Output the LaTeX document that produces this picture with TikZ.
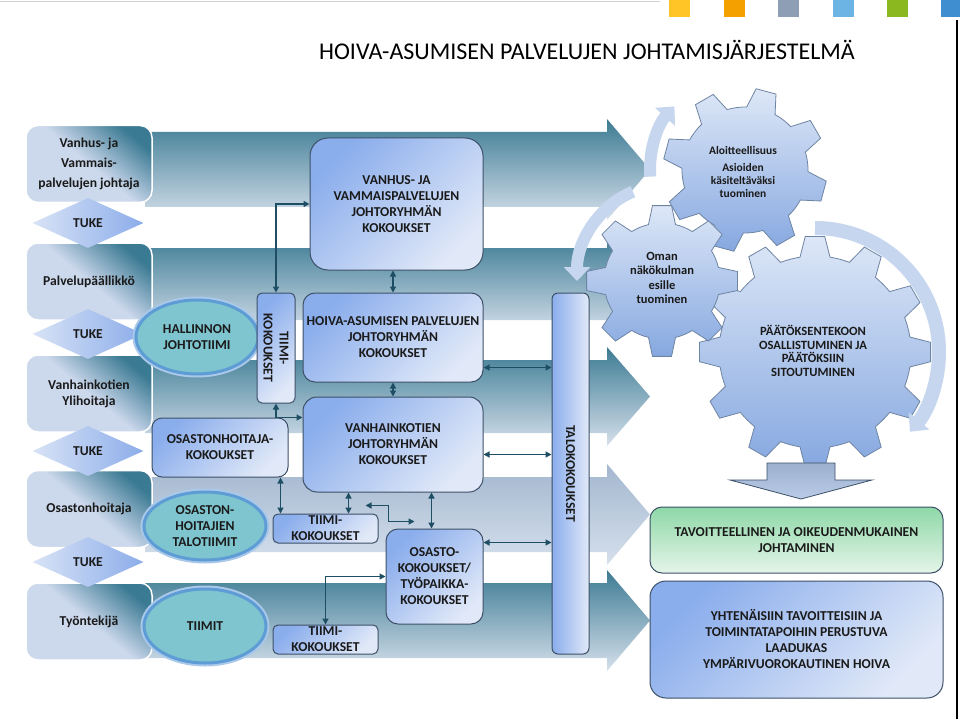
\documentclass[tikz,border=0pt]{standalone}
\usepackage{fontspec}
\setmainfont{Carlito}
\usepackage{tikz}
\usetikzlibrary{arrows.meta, positioning, calc, shapes.geometric}

\definecolor{textcol}{HTML}{1A1A1A}
\definecolor{bandtop}{HTML}{3C7B93}
\definecolor{bandpale}{HTML}{A3B7CF}
\definecolor{bandbot}{HTML}{D6E0EC}
\definecolor{roledk}{HTML}{3B7A93}
\definecolor{rolelt}{HTML}{CCD8EC}
\definecolor{tukelt}{HTML}{D8E3F6}
\definecolor{tukedk}{HTML}{8CADEA}
\definecolor{ellfill}{HTML}{7FC5CF}
\definecolor{ellring}{HTML}{5E9CD6}
\definecolor{ellglow}{HTML}{A9C8EA}
\definecolor{boxdk}{HTML}{8AADEC}
\definecolor{boxlt}{HTML}{E1E9F8}
\definecolor{boxline}{HTML}{3D5068}
\definecolor{conncol}{HTML}{1D4E63}
\definecolor{gearlt}{HTML}{DDE7F7}
\definecolor{geardk}{HTML}{86A8E0}
\definecolor{gearline}{HTML}{6E84A3}
\definecolor{arcblue}{HTML}{C6D6EE}
\definecolor{greentop}{HTML}{8ED8A7}
\definecolor{greenbot}{HTML}{E5F5E9}
\definecolor{downtop}{HTML}{9CB0CF}
\definecolor{downbot}{HTML}{B9CBE6}
\definecolor{sqyellow}{HTML}{FFC425}
\definecolor{sqorange}{HTML}{F4A000}
\definecolor{sqgrey}{HTML}{8E9FB5}
\definecolor{sqlblue}{HTML}{6CB4E4}
\definecolor{sqgreen}{HTML}{8AB81E}
\definecolor{sqblue}{HTML}{3E8ED0}

% teeth, outer radius, inner radius, offset angle
\newcommand{\gearpath}[4]{%
  ({#4-0.7*360/#1}:#3)
  \foreach \k [evaluate=\k as \a using #4+(\k-1)*360/#1] in {1,...,#1}{
    arc[start angle={\a-0.7*360/#1}, end angle={\a-0.3*360/#1}, radius=#3]
    -- ({\a-0.16*360/#1}:#2) -- ({\a+0.16*360/#1}:#2) -- ({\a+0.3*360/#1}:#3)
  } -- cycle}

\begin{document}
\begin{tikzpicture}[x=1pt, y=-1pt, >={Triangle[length=6pt,width=6pt]},
  txt/.style={text=textcol, align=center, font=\fontsize{13.6}{16}\selectfont\bfseries},
  rolebox/.style={txt, rounded corners=12pt, draw=white, line width=1.5pt,
    top color=roledk, bottom color=rolelt, middle color=rolelt, shading angle=-40,
    minimum width=126pt, minimum height=77pt, inner sep=0pt},
  tuke/.style={txt, diamond, left color=tukelt, right color=tukedk,
    minimum width=111pt, minimum height=50pt, inner sep=0pt},
  team/.style={txt, ellipse, fill=ellfill, draw=ellring, line width=3pt,
    preaction={draw=ellglow, line width=7pt},
    minimum width=122pt, minimum height=74pt, inner sep=0pt},
  meet/.style={txt, draw=boxline, line width=1pt, top color=boxdk, bottom color=boxlt,
    shading angle=45, inner sep=0pt},
  conn/.style={draw=conncol, line width=1.3pt},
  gearfill/.style={draw=gearline, line width=0.8pt, top color=gearlt, bottom color=geardk},
  turn/.style={draw=arcblue, line width=12pt, -{Triangle[length=14pt,width=26pt]}},
]
\useasboundingbox (0,0) rectangle (960,719);
\fill[white] (0,0) rectangle (960,719);

% frame and colour squares
\draw[gray!35, line width=0.8pt] (0,1) -- (660,1);
\draw[black, line width=1.2pt] (957,20) -- (957,719);
\foreach \x/\c in {669/sqyellow, 724/sqorange, 778/sqgrey, 833/sqlblue, 887/sqgreen, 941/sqblue}
  \fill[\c] (\x,0) rectangle (\x+21,17);
\node[font=\fontsize{24}{28}\selectfont, text=black] (title) at (587,50)
  {HOIVA-ASUMISEN PALVELUJEN JOHTAMISJÄRJESTELMÄ};

% rows
\foreach \t/\b/\c in {132/207/bandtop, 248/320/bandtop, 360/433/bandtop, 477/552/bandpale, 583/658/bandtop}
  \shade[top color=\c, bottom color=bandbot] (145,\t) -- (607,\t) -- (607,\t-13)
    -- (650,{(\t+\b)/2}) -- (607,\b+13) -- (607,\b) -- (145,\b) -- cycle;

\node[rolebox] (roleA) at (89,164) {Vanhus- ja\\[4pt]Vammais-\\[4pt]palvelujen johtaja};
\node[rolebox] (roleB) at (89,281.5) {Palvelupäällikkö};
\node[rolebox] (roleC) at (89,393.5) {Vanhainkotien\\Ylihoitaja};
\node[rolebox] (roleD) at (89,509) {Osastonhoitaja};
\node[rolebox] (roleE) at (89,621.5) {Työntekijä};
\foreach \y [count=\i] in {223,334,451,562}
  \node[tuke] (tuke\i) at (88,\y) {TUKE};

\node[team] (hallinto) at (197,337) {HALLINNON\\JOHTOTIIMI};
\node[team, minimum height=68pt] (talotiimi) at (205,526) {OSASTON-\\HOITAJIEN\\TALOTIIMIT};
\node[team] (tiimit) at (205,626) {TIIMIT};

% meetings
\node[meet, rounded corners=18pt, minimum width=173pt, minimum height=132pt] (vjoht) at (396.5,204)
  {VANHUS- JA\\VAMMAISPALVELUJEN\\JOHTORYHMÄN\\KOKOUKSET};
\node[meet, rounded corners=12pt, minimum width=180pt, minimum height=89pt] (hoiva) at (393,337.5)
  {HOIVA-ASUMISEN PALVELUJEN\\JOHTORYHMÄN\\KOKOUKSET};
\node[meet, rounded corners=5pt, minimum width=38pt, minimum height=110pt] (tiimiV) at (276,348) {};
\node[txt, rotate=-90] (tiimiVtxt) at (tiimiV) {TIIMI-\\KOKOUKSET};
\node[meet, rounded corners=14pt, minimum width=180pt, minimum height=95pt] (vanhk) at (393,444.5)
  {VANHAINKOTIEN\\JOHTORYHMÄN\\KOKOUKSET};
\node[meet, rounded corners=10pt, minimum width=136pt, minimum height=59pt] (oshk) at (220,447.5)
  {OSASTONHOITAJA-\\KOKOUKSET};
\node[meet, rounded corners=5pt, minimum width=105pt, minimum height=29pt] (tiimiA) at (325.5,528.5)
  {TIIMI-\\KOKOUKSET};
\node[meet, rounded corners=12pt, minimum width=97pt, minimum height=95pt] (osasto) at (434.5,576.5)
  {OSASTO-\\KOKOUKSET/\\TYÖPAIKKA-\\KOKOUKSET};
\node[meet, rounded corners=5pt, minimum width=105pt, minimum height=29pt] (tiimiB) at (325.5,639.5)
  {TIIMI-\\KOKOUKSET};
\node[meet, rounded corners=6pt, minimum width=37pt, minimum height=361pt,
  left color=boxdk, right color=boxlt] (talo) at (570.5,473.5) {};
\node[txt, rotate=-90] (talotxt) at (talo) {TALOKOKOUKSET};

% connectors
\coordinate (hoivaT) at ($(hoiva.south east)+(0,-15)$);
\coordinate (vanhkT) at ($(vanhk.east)+(0,10)$);
\coordinate (osastoT) at ($(osasto.north east)+(0,14)$);
\coordinate (oshkN) at (tiimiV.south |- oshk.north);
\coordinate (oshkS) at ($(oshk.south east)+(-8,0)$);
\coordinate (tiimiAN) at ($(tiimiA.north east)+(-30,0)$);
\coordinate (kinkA) at ($(tiimiA.north east)+(-13,-8)$);
\coordinate (kinkB) at ($(osasto.north west)+(29,-7)$);
\coordinate (osastoN) at ($(osasto.north)+(-3,0)$);
\draw[conn,<->] (tiimiV.north) |- (vjoht.west);
\draw[conn,<->] (hoiva.north) -- (hoiva.north |- vjoht.south);
\draw[conn,<->] (hoiva.south) -- (vanhk.north);
\draw[conn,<->] (hoivaT) -- (hoivaT -| talo.west);
\draw[conn,<->] (vanhkT) -- (vanhkT -| talo.west);
\draw[conn,<->] (osastoT) -- (osastoT -| talo.west);
\draw[conn,->] (oshkN) -- (tiimiV.south);
\draw[conn,->] (oshkN) -- (oshkN -| vanhk.west);
\draw[conn,<->] (oshkS) -- (oshkS |- tiimiA.north);
\draw[conn,<->] (tiimiAN) -- (tiimiAN |- vanhk.south);
\draw[conn,<->] (kinkA) -- ++(23,0) |- (kinkB);
\draw[conn,<->] (osastoN) -- (osastoN |- vanhk.south);
\draw[conn,<->] (osasto.west) -| (tiimiB.north);

% gears
\coordinate (gearA) at (745,170);
\coordinate (gearB) at (662,281);
\coordinate (gearC) at (815,352);
\path[gearfill, shift={(gearC)}] \gearpath{12}{116}{96}{0};
\path[gearfill, shift={(gearA)}] \gearpath{8}{82}{63}{15};
\path[gearfill, shift={(gearB)}] \gearpath{8}{76}{58}{0};
\node[txt, font=\fontsize{11.5}{13}\selectfont\bfseries] (gearAtxt) at (743,172)
  {Aloitteellisuus\\[4pt]Asioiden\\käsiteltäväksi\\tuominen};
\node[txt, font=\fontsize{12.5}{14.5}\selectfont\bfseries] (gearBtxt) at (662,278)
  {Oman\\näkökulman\\esille\\tuominen};
\node[txt, font=\fontsize{12.6}{13.5}\selectfont\bfseries] (gearCtxt) at (813,351)
  {PÄÄTÖKSENTEKOON\\OSALLISTUMINEN JA\\PÄÄTÖKSIIN\\SITOUTUMINEN};
\draw[turn] ($(gearA)+(176:95)$) arc[start angle=176, end angle=222, radius=95];
\draw[turn] ($(gearB)+(250:85 and 95)$) arc[start angle=250, end angle=180, x radius=85, y radius=95];
\draw[turn, line width=14pt] ($(gearC)+(-90:124)$) arc[start angle=-90, end angle=40, radius=124];

% results
\shade[top color=downtop, bottom color=downbot, draw=boxline, line width=0.8pt]
  (767,463) -- (835,463) -- (835,480) -- (872,480) -- (801,499) -- (730,480) -- (767,480) -- cycle;
\node[meet, rounded corners=12pt, minimum width=293pt, minimum height=66pt,
  top color=greentop, bottom color=greenbot] (tavo) at (796.5,540)
  {TAVOITTEELLINEN JA OIKEUDENMUKAINEN\\JOHTAMINEN};
\node[meet, rounded corners=16pt, minimum width=293pt, minimum height=117pt] (yhte) at (796.5,639.5)
  {YHTENÄISIIN TAVOITTEISIIN JA\\TOIMINTATAPOIHIN PERUSTUVA\\LAADUKAS\\YMPÄRIVUOROKAUTINEN HOIVA};
\end{tikzpicture}
\end{document}
